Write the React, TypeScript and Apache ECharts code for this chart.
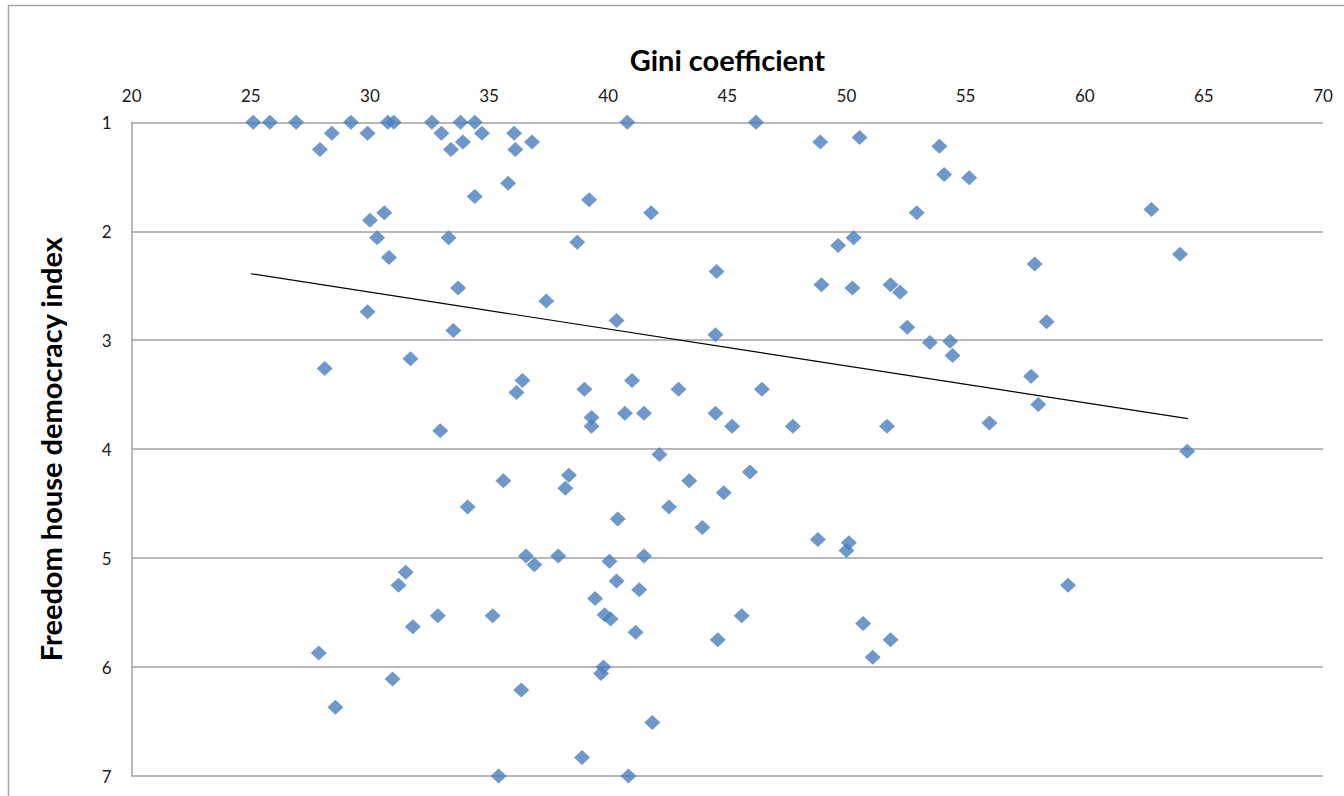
import React, { useEffect, useRef } from "react";
import * as echarts from "echarts";

const giniValues: number[] = [
  25.1, 25.8, 26.9, 29.2, 30.75, 31.0, 32.6, 33.8, 34.4, 40.8, 46.2,
  28.4, 29.9, 33.0, 34.7, 36.05, 50.55, 27.9, 33.4, 33.9, 36.1, 36.8, 48.9,
  53.9, 54.1, 55.15, 52.95, 62.8, 64.0, 57.9, 50.3, 35.8, 34.4, 39.2, 41.8,
  33.3, 38.7, 44.55, 49.65, 48.95, 50.25, 51.85, 52.25, 33.7, 37.4, 40.35,
  30.0, 30.6, 30.3, 30.8, 29.9, 33.5, 28.1, 31.7, 36.4, 36.15, 32.95, 35.6,
  34.1, 44.5, 52.55, 53.5, 54.35, 54.45, 39.0, 41.0, 42.95, 46.45, 39.3,
  39.3, 40.7, 41.5, 44.5, 45.2, 47.75, 51.7, 56.0, 42.15, 38.35, 38.2, 43.4,
  45.95, 44.85, 42.55, 40.4, 58.4, 57.75, 58.05, 64.3, 31.5, 31.2, 32.85,
  31.8, 35.15, 36.55, 36.9, 27.85, 30.95, 28.55, 36.35, 35.4, 43.95, 48.8,
  50.1, 50.0, 37.9, 40.05, 41.5, 40.35, 41.3, 39.45, 39.85, 40.1, 41.15,
  44.6, 45.6, 50.7, 51.85, 51.1, 39.8, 39.7, 41.85, 38.9, 40.85, 59.3,
];

const democracyValues: number[] = [
  1.0, 1.0, 1.0, 1.0, 1.0, 1.0, 1.0, 1.0, 1.0, 1.0, 1.0,
  1.1, 1.1, 1.1, 1.1, 1.1, 1.14, 1.25, 1.25, 1.18, 1.25, 1.18, 1.18,
  1.22, 1.48, 1.51, 1.83, 1.8, 2.21, 2.3, 2.06, 1.56, 1.68, 1.71, 1.83,
  2.06, 2.1, 2.37, 2.13, 2.49, 2.52, 2.49, 2.56, 2.52, 2.64, 2.82,
  1.9, 1.83, 2.06, 2.24, 2.74, 2.91, 3.26, 3.17, 3.37, 3.48, 3.83, 4.29,
  4.53, 2.95, 2.88, 3.02, 3.01, 3.14, 3.45, 3.37, 3.45, 3.45, 3.71,
  3.79, 3.67, 3.67, 3.67, 3.79, 3.79, 3.79, 3.76, 4.05, 4.24, 4.36, 4.29,
  4.21, 4.4, 4.53, 4.64, 2.83, 3.33, 3.59, 4.02, 5.13, 5.25, 5.53,
  5.63, 5.53, 4.98, 5.06, 5.87, 6.11, 6.37, 6.21, 7.0, 4.72, 4.83,
  4.86, 4.93, 4.98, 5.03, 4.98, 5.21, 5.29, 5.37, 5.52, 5.56, 5.68,
  5.75, 5.53, 5.6, 5.75, 5.91, 6.0, 6.06, 6.51, 6.83, 7.0, 5.25,
];

const trendX: number[] = [25.0, 64.33];
const trendY: number[] = [2.39, 3.72];

const xTitle = "Gini coefficient";
const yTitle = "Freedom house democracy index";

export default function App() {
  const ref = useRef<HTMLDivElement>(null);

  useEffect(() => {
    if (!ref.current) return;
    const chart = echarts.init(ref.current, null, { renderer: "svg" });
    const font = "Lato, 'Open Sans', sans-serif";
    chart.setOption({
      animation: false,
      backgroundColor: "#ffffff",
      grid: { left: 131.7, top: 122.3, right: 21, bottom: 20, containLabel: false },
      graphic: [
        {
          type: "rect",
          shape: { x: 8.5, y: 5.5, width: 1500, height: 1000 },
          style: { fill: "none", stroke: "#A6A6A6", lineWidth: 1.5 },
          silent: true,
          z: -10,
        },
      ],
      xAxis: {
        type: "value",
        position: "top",
        min: 20,
        max: 70,
        interval: 5,
        name: xTitle,
        nameLocation: "middle",
        nameGap: 48,
        nameTextStyle: { fontFamily: font, fontSize: 29, fontWeight: "bold", color: "#000" },
        axisLine: { show: false },
        axisTick: { show: false },
        axisLabel: { fontFamily: font, fontSize: 17, color: "#1a1a1a", margin: 18 },
        splitLine: { show: false },
      },
      yAxis: {
        type: "value",
        inverse: true,
        min: 1,
        max: 7,
        interval: 1,
        name: yTitle,
        nameLocation: "middle",
        nameGap: 67,
        nameRotate: 90,
        nameTextStyle: { fontFamily: font, fontSize: 29, fontWeight: "bold", color: "#000" },
        axisLine: { show: true, lineStyle: { color: "#A0A0A0", width: 1.5 } },
        axisTick: { show: false },
        axisLabel: { fontFamily: font, fontSize: 17, color: "#1a1a1a", margin: 20 },
        splitLine: { show: true, lineStyle: { color: "#A0A0A0", width: 1.5 } },
      },
      series: [
        {
          type: "scatter",
          symbol: "diamond",
          symbolSize: [16, 15],
          itemStyle: { color: "#4A7EBB" },
          data: giniValues.map((g, i) => [g, democracyValues[i]]),
          z: 3,
        },
        {
          type: "line",
          data: trendX.map((x, i) => [x, trendY[i]]),
          showSymbol: false,
          symbol: "none",
          lineStyle: { color: "#000000", width: 1.2 },
          z: 4,
        },
      ],
    });
    return () => chart.dispose();
  }, []);

  return (
    <div
      ref={ref}
      style={{ position: "fixed", left: 0, top: 0, width: 1344, height: 796 }}
    />
  );
}
